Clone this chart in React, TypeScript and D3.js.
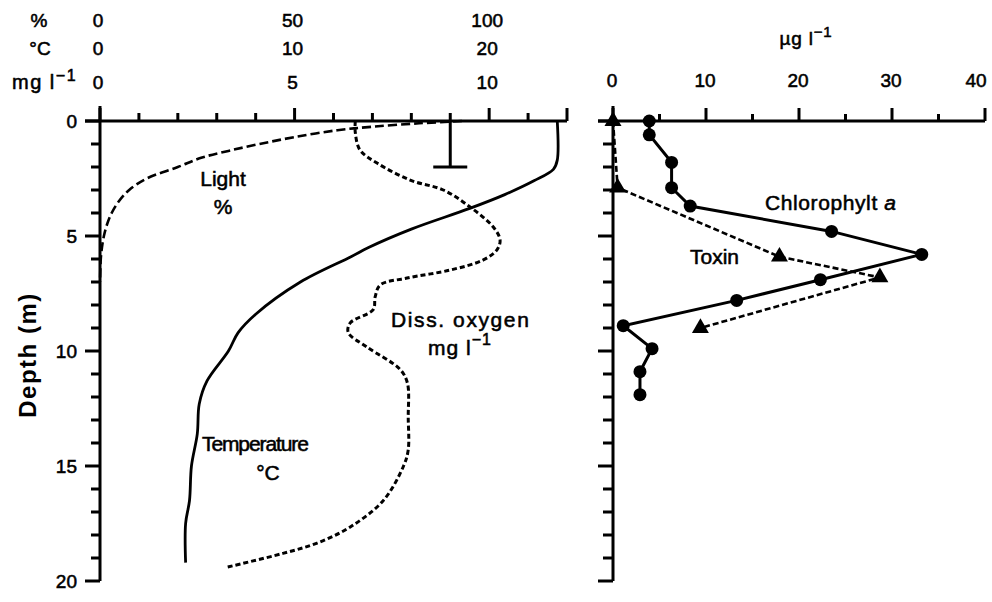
import React from 'react';
import * as d3 from 'd3';

// ---------- data ----------
const depthTickLabels = [0, 5, 10, 15, 20];
const percentTickLabels = [0, 50, 100];
const tempTickLabels = [0, 10, 20];
const oxygenTickLabels = [0, 5, 10];
const ugTickLabels = [0, 10, 20, 30, 40];

// Light (%) profile
const lightDepth = [0, 0.1, 0.25, 0.4, 0.7, 1.0, 1.3, 1.6, 2.0, 2.5, 3.0, 3.5, 4.0, 4.5, 5.0, 5.5, 6.0, 7.0];
const lightPct = [93, 82, 70, 61, 50, 41, 33, 26, 20, 12, 7.5, 4.8, 3, 1.8, 1.0, 0.5, 0.2, 0];

// Temperature (°C) profile
const tempDepth = [0, 1.7, 2.1, 2.6, 3.2, 3.8, 4.7, 5.5, 5.9, 7.0, 8.4, 9.2, 10.0, 11.3, 12.3, 13.6, 15.0, 16.5, 17.5, 19.2];
const tempC = [23.5, 23.5, 23.3, 22.3, 20.8, 19.0, 16.0, 13.8, 12.9, 10.3, 8.0, 7.1, 6.6, 5.5, 5.1, 5.0, 4.7, 4.6, 4.4, 4.4];

// Dissolved oxygen (mg l-1) profile
const oxyDepth = [0, 0.5, 1.26, 1.83, 2.57, 3.0, 3.74, 4.6, 5.17, 5.6, 6.04, 6.48, 6.83, 7.13, 7.65, 8.2, 8.78, 9.2, 9.83, 10.8, 11.4, 12.9, 14.3, 15.0, 16.5, 17.65, 18.35, 18.8, 19.4];
const oxyMg = [6.56, 6.56, 6.68, 7.12, 7.97, 8.82, 9.51, 10.1, 10.28, 10.2, 9.85, 9.0, 7.89, 7.2, 7.07, 7.02, 6.43, 6.38, 6.86, 7.71, 7.9, 7.92, 7.92, 7.8, 7.28, 6.43, 5.58, 4.7, 3.26];

// Secchi-type bar
const secchiPct = 90;
const secchiDepth = 2.0;

// Chlorophyll a (µg l-1)
const chlDepth = [0, 0.6, 1.8, 2.9, 3.7, 4.8, 5.8, 6.9, 7.8, 8.9, 9.9, 10.9, 11.9];
const chlVal = [3.9, 3.9, 6.3, 6.3, 8.3, 23.5, 33.2, 22.3, 13.3, 1.1, 4.2, 2.9, 2.9];

// Toxin (µg l-1)
const toxDepth = [0, 2.9, 5.9, 6.8, 9.0];
const toxVal = [0, 0.5, 17.9, 28.7, 9.4];

// ---------- scales ----------
const yDepth = d3.scaleLinear().domain([0, 20]).range([121, 581]);
const xPct = d3.scaleLinear().domain([0, 120]).range([100, 567]);
const xTemp = d3.scaleLinear().domain([0, 24]).range([100, 567]);
const xOxy = d3.scaleLinear().domain([0, 12]).range([100, 567]);
const xUg = d3.scaleLinear().domain([0, 40]).range([613, 985]);

const FONT = "'Liberation Sans', Arial, Helvetica, sans-serif";

function profilePath(depths: number[], vals: number[], xs: (v: number) => number, smooth: boolean) {
  const pts = depths.map((d, i) => [xs(vals[i]), yDepth(d)] as [number, number]);
  const gen = d3.line<[number, number]>().x(p => p[0]).y(p => p[1]);
  gen.curve(smooth ? d3.curveCatmullRom.alpha(0.5) : d3.curveLinear);
  return gen(pts) || '';
}

export default function App() {
  const y0 = yDepth(0);
  const yEnd = yDepth(20);
  const axisW = 3;

  const leftTopTicks = d3.range(0, 121, 10);
  const rightTopTicks = d3.range(0, 41, 5);
  const depthTicks = d3.range(0, 21, 1);

  const tri = d3.symbol().type(d3.symbolTriangle).size(125)() || '';

  const txt = { fontFamily: FONT, fill: '#000', stroke: '#000', strokeWidth: 0.55 } as const;

  return (
    <svg width={992} height={602} viewBox="0 0 992 602"
      style={{ position: 'absolute', left: 0, top: 0, background: '#fff' }}>
      <rect x={0} y={0} width={992} height={602} fill="#fff" />

      {/* ----- top-left scale labels ----- */}
      <g style={txt} fontSize={19}>
        <text x={39} y={20} textAnchor="middle" dominantBaseline="central">%</text>
        <text x={40} y={48} textAnchor="middle" dominantBaseline="central">°C</text>
        <text x={12} y={82} dominantBaseline="central" fontSize={20} letterSpacing={1.5}>mg l<tspan fontSize={16} dy={-7}>−1</tspan></text>
        {percentTickLabels.map(v => (
          <text key={'p' + v} x={xPct(v) - 2} y={20} textAnchor="middle" dominantBaseline="central">{v}</text>
        ))}
        {tempTickLabels.map(v => (
          <text key={'t' + v} x={xTemp(v) - 2} y={48} textAnchor="middle" dominantBaseline="central">{v}</text>
        ))}
        {oxygenTickLabels.map(v => (
          <text key={'o' + v} x={xOxy(v) - 2} y={82} textAnchor="middle" dominantBaseline="central">{v}</text>
        ))}
      </g>

      {/* ----- left panel axes ----- */}
      <g stroke="#000" strokeWidth={axisW} fill="none">
        <line x1={85} x2={567} y1={y0} y2={y0} />
        <line x1={100} x2={100} y1={106} y2={yEnd} />
        {leftTopTicks.map(v => {
          const major = v % 50 === 0 || v === 120;
          return <line key={'lt' + v} x1={xPct(v)} x2={xPct(v)} y1={y0} y2={y0 - (major ? 13 : 8)} />;
        })}
        {depthTicks.map(d => {
          const major = d % 5 === 0;
          return <line key={'ld' + d} x1={100} x2={100 - (major ? 15 : 9)} y1={yDepth(d)} y2={yDepth(d)} />;
        })}
      </g>
      <g style={txt} fontSize={19}>
        {depthTickLabels.map(d => (
          <text key={'dl' + d} x={77} y={yDepth(d)} textAnchor="end" dominantBaseline="central">{d}</text>
        ))}
      </g>
      <text x={27} y={355} transform="rotate(-90 27 355)" textAnchor="middle" dominantBaseline="central"
        fontFamily={FONT} fontSize={24} fontWeight="bold" letterSpacing={1.5}>Depth (m)</text>

      {/* ----- left panel profiles ----- */}
      <path d={profilePath(lightDepth, lightPct, xPct, true)} fill="none" stroke="#000" strokeWidth={2.6}
        strokeDasharray="9 4" />
      <path d={profilePath(oxyDepth, oxyMg, xOxy, true)} fill="none" stroke="#000" strokeWidth={3}
        strokeDasharray="5 3" />
      <path d={profilePath(tempDepth, tempC, xTemp, true)} fill="none" stroke="#000" strokeWidth={2.8} />
      <g stroke="#000" strokeWidth={3}>
        <line x1={xPct(secchiPct)} x2={xPct(secchiPct)} y1={y0} y2={yDepth(secchiDepth)} />
        <line x1={xPct(secchiPct) - 17} x2={xPct(secchiPct) + 17} y1={yDepth(secchiDepth)} y2={yDepth(secchiDepth)} />
      </g>

      {/* labels in left panel */}
      <g style={txt} fontSize={21}>
        <text x={223} y={178} textAnchor="middle" dominantBaseline="central">Light</text>
        <text x={223} y={206} textAnchor="middle" dominantBaseline="central">%</text>
        <text x={202} y={443} dominantBaseline="central" letterSpacing={-1.1}>Temperature</text>
        <text x={268} y={472} textAnchor="middle" dominantBaseline="central">°C</text>
        <text x={391} y={319} dominantBaseline="central" letterSpacing={1.6}>Diss. oxygen</text>
        <text x={428} y={347} dominantBaseline="central" letterSpacing={1}>mg l<tspan fontSize={16} dy={-8}>−1</tspan></text>
      </g>

      {/* ----- right panel axes ----- */}
      <g stroke="#000" strokeWidth={axisW} fill="none">
        <line x1={598} x2={985} y1={y0} y2={y0} />
        <line x1={613} x2={613} y1={106} y2={yEnd} />
        {rightTopTicks.map(v => {
          const major = v % 10 === 0;
          return <line key={'rt' + v} x1={xUg(v)} x2={xUg(v)} y1={y0} y2={y0 - (major ? 13 : 7)} />;
        })}
        {depthTicks.map(d => {
          const major = d % 5 === 0;
          return <line key={'rd' + d} x1={613} x2={613 - (major ? 15 : 10)} y1={yDepth(d)} y2={yDepth(d)} />;
        })}
      </g>
      <g style={txt} fontSize={19}>
        {ugTickLabels.map((v, i) => (
          <text key={'u' + v} x={xUg(v) - 1 - (i === ugTickLabels.length - 1 ? 8 : 0)} y={80}
            textAnchor="middle" dominantBaseline="central">{v}</text>
        ))}
        <text x={806} y={38} textAnchor="middle" dominantBaseline="central" letterSpacing={0.8}>µg l<tspan fontSize={15} dy={-7}>−1</tspan></text>
      </g>

      {/* ----- right panel series ----- */}
      <path d={profilePath(toxDepth, toxVal, xUg, false)} fill="none" stroke="#000" strokeWidth={2.6}
        strokeDasharray="6 3" />
      {toxDepth.map((d, i) => (
        <path key={'tx' + i} d={tri} transform={`translate(${xUg(toxVal[i])},${yDepth(d)})`} fill="#000" />
      ))}
      <path d={profilePath(chlDepth, chlVal, xUg, false)} fill="none" stroke="#000" strokeWidth={3} />
      {chlDepth.map((d, i) => (
        <circle key={'ch' + i} cx={xUg(chlVal[i])} cy={yDepth(d)} r={6.5} fill="#000" />
      ))}

      <g style={txt} fontSize={21}>
        <text x={765} y={202} dominantBaseline="central" letterSpacing={0.6}>Chlorophylt <tspan fontStyle="italic">a</tspan></text>
        <text x={690} y={256} dominantBaseline="central">Toxin</text>
      </g>
    </svg>
  );
}
